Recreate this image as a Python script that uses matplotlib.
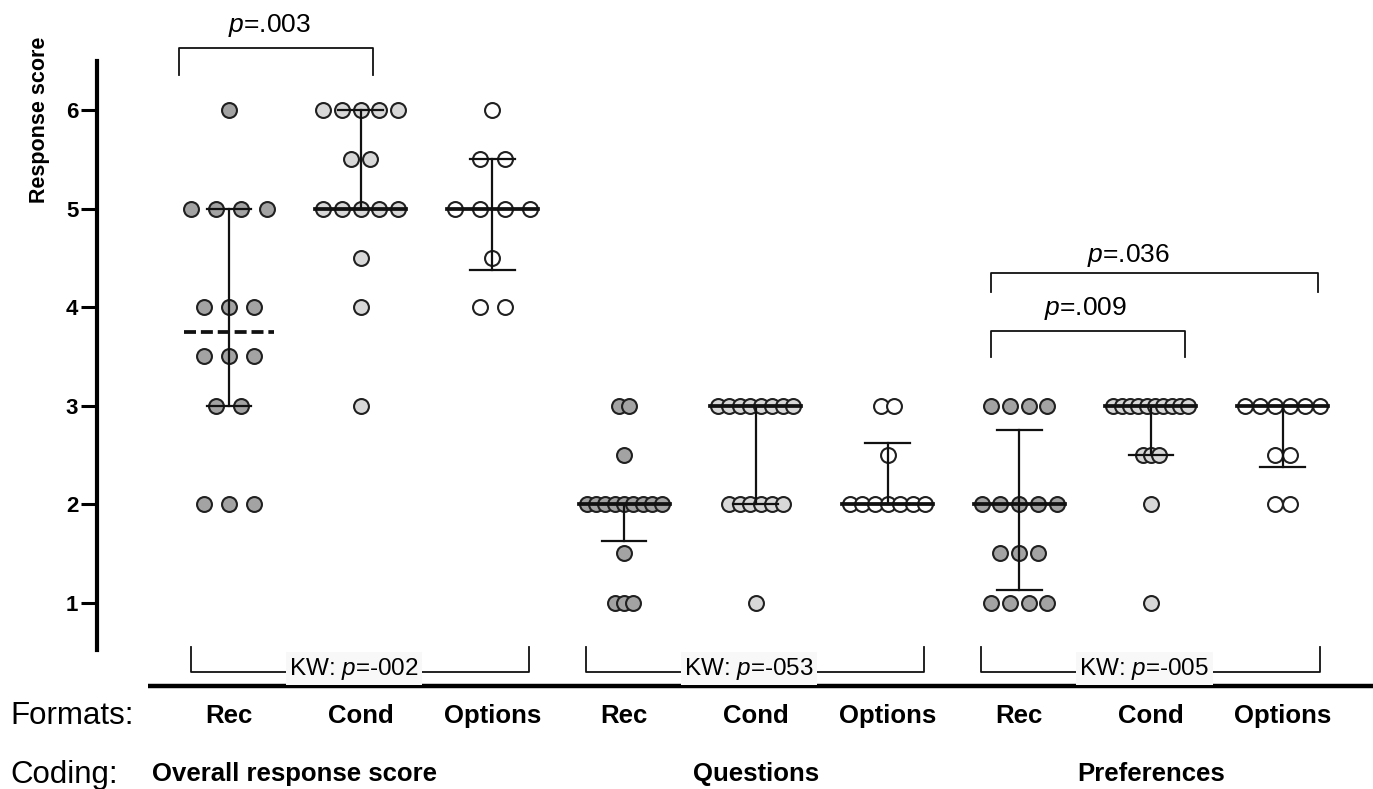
import numpy as np
import matplotlib
matplotlib.use('Agg')
import matplotlib.pyplot as plt

plt.rcParams['font.family'] = ['Liberation Sans', 'DejaVu Sans']
plt.rcParams['mathtext.fontset'] = 'custom'
plt.rcParams['mathtext.rm'] = 'Liberation Sans'
plt.rcParams['mathtext.it'] = 'Liberation Sans:italic'

# ---------------- data ----------------
formats = ['Rec', 'Cond', 'Options']
codings = ['Overall response score', 'Questions', 'Preferences']

overall_rec = [6, 5, 5, 5, 5, 4, 4, 4, 3.5, 3.5, 3.5, 3, 3, 2, 2, 2]
overall_cond = [6, 6, 6, 6, 6, 5.5, 5.5, 5, 5, 5, 5, 5, 4.5, 4, 3]
overall_options = [6, 5.5, 5.5, 5, 5, 5, 5, 4.5, 4, 4]
questions_rec = [3, 3, 2.5, 2, 2, 2, 2, 2, 2, 2, 2, 2, 1.5, 1, 1, 1]
questions_cond = [3, 3, 3, 3, 3, 3, 3, 3, 2, 2, 2, 2, 2, 2, 1]
questions_options = [3, 3, 2.5, 2, 2, 2, 2, 2, 2, 2]
preferences_rec = [3, 3, 3, 3, 2, 2, 2, 2, 2, 1.5, 1.5, 1.5, 1, 1, 1, 1]
preferences_cond = [3, 3, 3, 3, 3, 3, 3, 3, 3, 3, 2.5, 2.5, 2.5, 2, 1]
preferences_options = [3, 3, 3, 3, 3, 3, 2.5, 2.5, 2, 2]

groups = [overall_rec, overall_cond, overall_options,
          questions_rec, questions_cond, questions_options,
          preferences_rec, preferences_cond, preferences_options]

yticks = [1, 2, 3, 4, 5, 6]
kw_pvalues = ['-002', '-053', '-005']
# pairwise comparisons: (group a, group b, label)
pairwise = [(0, 1, '.003'), (6, 7, '.009'), (6, 8, '.036')]

# ---------------- style ----------------
fills = ['#a3a3a3', '#d8d8d8', '#ffffff']
edge = '#202020'
W, H = 1373, 789
fig = plt.figure(figsize=(W / 100, H / 100), dpi=100)
ax = fig.add_axes([97 / W, 1 - 650 / H, 1 - 97 / W, (650 - 61) / H])
ax.set_xlim(-1.002, 8.686)
ax.set_ylim(0.52, 6.50)

max_pitch = 0.19
max_span = 0.57

for i, vals in enumerate(groups):
    vals = np.asarray(vals, dtype=float)
    uniq, counts = np.unique(vals, return_counts=True)
    pitch = min(max_pitch, max_span / max(counts.max() - 1, 1))
    xs, ys = [], []
    for u, c in zip(uniq, counts):
        offs = (np.arange(c) - (c - 1) / 2) * pitch
        xs.extend(i + offs)
        ys.extend([u] * c)
    ax.scatter(xs, ys, s=115, c=fills[i % 3], edgecolors=edge, linewidths=1.5, zorder=3)
    q1, med, q3 = np.percentile(vals, [25, 50, 75], method='weibull')
    ax.plot([i, i], [q1, q3], color='#111111', lw=1.6, zorder=4)
    for q in (q1, q3):
        ax.plot([i - 0.17, i + 0.17], [q, q], color='#111111', lw=1.6, zorder=4)
    ls = (0, (3.2, 1.3)) if i == 0 else '-'
    ax.plot([i - 0.345, i + 0.345], [med, med], color='#111111', lw=2.7, ls=ls, zorder=5)

# axes styling
for s in ['top', 'right', 'bottom']:
    ax.spines[s].set_visible(False)
ax.spines['left'].set_linewidth(3)
ax.set_xticks([])
ax.set_yticks(yticks)
ax.tick_params(axis='y', length=11.5, width=2.2, labelsize=16, pad=2)
for lab in ax.get_yticklabels():
    lab.set_fontweight('bold')
fig.text(40 / W, 1 - 120 / H, 'Response score', rotation=90, ha='center', va='center',
         fontsize=15.5, fontweight='bold')

# pairwise brackets
pair_geom = {
    (0, 1): dict(x0=-0.38, x1=1.093, top=6.629, low=6.355, tx=0.311, ty=6.862),
    (6, 7): dict(x0=5.786, x1=7.259, top=3.759, low=3.495, tx=6.5, ty=3.992),
    (6, 8): dict(x0=5.786, x1=8.269, top=4.347, low=4.154, tx=6.826, ty=4.529),
}
for a, b, lab in pairwise:
    g = pair_geom[(a, b)]
    ax.plot([g['x0'], g['x0'], g['x1'], g['x1']], [g['low'], g['top'], g['top'], g['low']],
            color='#111111', lw=1.3, clip_on=False, zorder=4)
    ax.text(g['tx'], g['ty'], r'$p$=' + lab, ha='center', va='center', fontsize=19,
            clip_on=False)

# KW brackets
for k in range(3):
    first, last = 3 * k, 3 * k + 2
    x0, x1 = first - 0.29, last + 0.28
    ax.plot([x0, x0, x1, x1], [0.554, 0.300, 0.300, 0.554], color='#111111', lw=1.3,
            clip_on=False, zorder=4)
    ax.text(3 * k + 0.95, 0.33, r'KW: $p$=' + kw_pvalues[k], ha='center', va='center',
            fontsize=17.5, clip_on=False, zorder=5,
            bbox=dict(facecolor='#f8f8f8', edgecolor='none', pad=2.5))

# thick baseline
ax.plot([-0.615, 8.686], [0.158, 0.158], color='black', lw=3.2, clip_on=False,
        solid_capstyle='butt')

# format labels
for i in range(9):
    ax.text(i, -0.146, formats[i % 3], ha='center', va='center', fontsize=18.5,
            fontweight='bold', clip_on=False)
coding_x = [0.5, 4.0, 7.0]
for k in range(3):
    ax.text(coding_x[k], -0.744, codings[k], ha='center', va='center', fontsize=18.5,
            fontweight='bold', clip_on=False)
fig.text(10 / W, 1 - 716 / H, 'Formats:', ha='left', va='center', fontsize=22.5)
fig.text(10 / W, 1 - 775 / H, 'Coding:', ha='left', va='center', fontsize=22.5)

fig.savefig('out.png', dpi=100)
